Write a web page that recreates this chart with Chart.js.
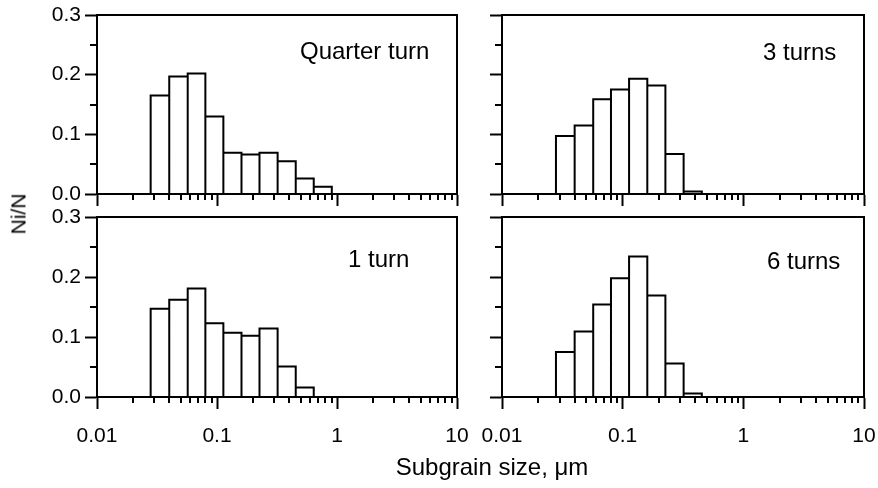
<!DOCTYPE html>
<html>
<head>
<meta charset="utf-8">
<script src="https://cdn.jsdelivr.net/npm/chart.js@4.4.1/dist/chart.umd.min.js"></script>
<style>
  body { margin: 0; background: #fff; }
  #wrap { position: relative; width: 878px; height: 488px; font-family: "Liberation Sans", Arial, sans-serif; color: #000; }
  #wrap canvas { position: absolute; left: 0; top: 0; }
  .axis-title { position: absolute; white-space: nowrap; line-height: 1; }
  #xTitle { left: 492px; top: 467px; font-size: 24px; transform: translate(-50%, -50%); }
  #yTitle { left: 18px; top: 214px; font-size: 21px; transform: translate(-50%, -50%) rotate(-90deg); }
</style>
</head>
<body>
<div id="wrap">
  <canvas id="c0" width="878" height="488"></canvas>
  <canvas id="c1" width="878" height="488"></canvas>
  <canvas id="c2" width="878" height="488"></canvas>
  <canvas id="c3" width="878" height="488"></canvas>
  <div class="axis-title" id="xTitle">Subgrain size, μm</div>
  <div class="axis-title" id="yTitle">Ni/N</div>
</div>
<script>
// bin edges (um) and Ni/N per bin
const binEdges = [0.028, 0.04, 0.057, 0.08, 0.113, 0.16, 0.226, 0.32, 0.453, 0.64, 0.905];
const quarterTurn = [0.165, 0.197, 0.202, 0.130, 0.069, 0.066, 0.069, 0.055, 0.026, 0.012];
const oneTurn     = [0.147, 0.162, 0.181, 0.123, 0.107, 0.102, 0.114, 0.051, 0.016];
const threeTurns  = [0.097, 0.115, 0.159, 0.175, 0.193, 0.182, 0.067, 0.004];
const sixTurns    = [0.075, 0.109, 0.154, 0.198, 0.234, 0.169, 0.056, 0.006];

const panelNames = ["Quarter turn", "1 turn", "3 turns", "6 turns"];
const xMajor = [0.01, 0.1, 1, 10];
const yTickValues = [0, 0.05, 0.1, 0.15, 0.2, 0.25, 0.3];

// x ticks: decades plus 2..9 minors
const xTicks = [];
xMajor.forEach((d, i) => {
  xTicks.push(d);
  if (i < xMajor.length - 1) for (let k = 2; k <= 9; k++) xTicks.push(d * k);
});

const W = 878, H = 488;
const YW = 60, XH = 50;
const FONT = '"Liberation Sans", Arial, sans-serif';

const panels = [
  { id: "c0", vals: quarterTurn, name: panelNames[0], left: 97,  top: 15,  right: 457, bottom: 194, xLab: false, yLab: true,  lx: 300, ly: 52 },
  { id: "c1", vals: oneTurn,     name: panelNames[1], left: 97,  top: 217, right: 457, bottom: 397, xLab: true,  yLab: true,  lx: 348, ly: 260 },
  { id: "c2", vals: threeTurns,  name: panelNames[2], left: 502, top: 15,  right: 864, bottom: 194, xLab: false, yLab: false, lx: 763, ly: 53 },
  { id: "c3", vals: sixTurns,    name: panelNames[3], left: 502, top: 217, right: 864, bottom: 397, xLab: true,  yLab: false, lx: 767, ly: 262 }
];

const isMajorY = v => Math.abs(v * 10 - Math.round(v * 10)) < 1e-6;

// histogram outline: up, across, down for every bin
function outline(vals) {
  const pts = [];
  vals.forEach((v, i) => {
    pts.push({ x: binEdges[i], y: 0 }, { x: binEdges[i], y: v },
             { x: binEdges[i + 1], y: v }, { x: binEdges[i + 1], y: 0 });
  });
  return pts;
}

// short minor ticks, frame and the panel label
const panelDecor = {
  id: "panelDecor",
  afterDraw(chart, args, opts) {
    const { ctx, chartArea: a, scales: { x, y } } = chart;
    ctx.save();
    ctx.strokeStyle = "#000";
    ctx.lineWidth = 2;
    ctx.beginPath();
    x.ticks.forEach(t => {
      if (!t.major) {
        const px = Math.round(x.getPixelForValue(t.value));
        ctx.moveTo(px, a.bottom);
        ctx.lineTo(px, a.bottom + 6);
      }
    });
    y.ticks.forEach(t => {
      if (!isMajorY(t.value)) {
        const py = Math.round(y.getPixelForValue(t.value));
        ctx.moveTo(a.left - 7, py);
        ctx.lineTo(a.left, py);
      }
    });
    ctx.stroke();
    ctx.strokeRect(a.left, a.top, a.right - a.left, a.bottom - a.top);
    ctx.fillStyle = "#000";
    ctx.font = "24px " + FONT;
    ctx.textBaseline = "middle";
    ctx.textAlign = "left";
    ctx.fillText(opts.text, opts.x, opts.y);
    ctx.restore();
  }
};

panels.forEach(p => {
  new Chart(document.getElementById(p.id), {
    type: "line",
    data: {
      datasets: [{
        data: outline(p.vals),
        borderColor: "#000",
        borderWidth: 2,
        borderJoinStyle: "miter",
        pointRadius: 0,
        tension: 0,
        fill: false
      }]
    },
    options: {
      responsive: false,
      animation: false,
      events: [],
      layout: { padding: { left: p.left - YW, top: p.top, right: W - p.right, bottom: H - p.bottom - XH } },
      plugins: {
        legend: { display: false },
        tooltip: { enabled: false },
        panelDecor: { text: p.name, x: p.lx, y: p.ly }
      },
      scales: {
        x: {
          type: "logarithmic",
          min: 0.01,
          max: 10,
          afterBuildTicks: s => { s.ticks = xTicks.map(v => ({ value: v, major: xMajor.includes(v) })); },
          afterFit: s => { s.height = XH; s.paddingLeft = 0; s.paddingRight = 0; },
          ticks: {
            display: p.xLab,
            autoSkip: false,
            maxRotation: 0,
            padding: 15,
            color: "#000",
            font: { family: FONT, size: 21 },
            callback: v => (xMajor.includes(v) ? String(v) : "")
          },
          grid: {
            drawOnChartArea: false,
            tickLength: 12,
            tickWidth: 2,
            tickColor: c => (c.tick && c.tick.major ? "#000" : "rgba(0,0,0,0)")
          },
          border: { color: "#000", width: 2 }
        },
        y: {
          min: 0,
          max: 0.3,
          afterBuildTicks: s => { s.ticks = yTickValues.map(v => ({ value: v })); },
          afterFit: s => { s.width = YW; s.paddingTop = 0; s.paddingBottom = 0; },
          ticks: {
            display: p.yLab,
            padding: 4,
            color: "#000",
            font: { family: FONT, size: 21 },
            callback: v => (isMajorY(v) ? v.toFixed(1) : "")
          },
          grid: {
            drawOnChartArea: false,
            tickLength: 12,
            tickWidth: 2,
            tickColor: c => (c.tick && isMajorY(c.tick.value) ? "#000" : "rgba(0,0,0,0)")
          },
          border: { color: "#000", width: 2 }
        }
      }
    },
    plugins: [panelDecor]
  });
});
</script>
</body>
</html>
